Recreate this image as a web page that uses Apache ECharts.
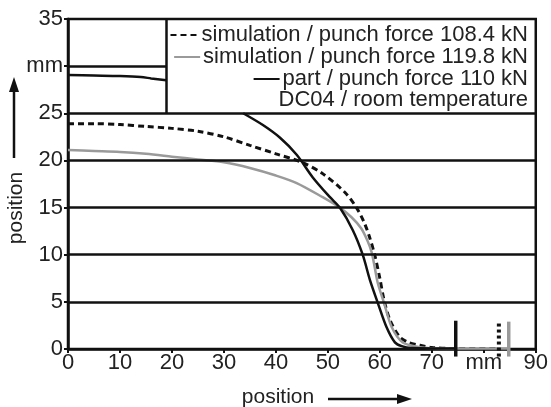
<!DOCTYPE html>
<html>
<head>
<meta charset="utf-8">
<script src="https://cdn.jsdelivr.net/npm/echarts@6/dist/echarts.min.js"></script>
<style>
html,body{margin:0;padding:0;background:#fff;}
#main{width:551px;height:407px;}
</style>
</head>
<body>
<div id="main"></div>
<script>
// x/y werte
var dashName='simulation / punch force 108.4 kN';
var grayName='simulation / punch force 119.8 kN';
var partName='part / punch force 110 kN';
var noteText='DC04 / room temperature';

var dashX=[0,5,10,15,20,25,30,35,40,45,49,53.3,55.5,57,58,59,60,60.8,62,63.8,65.5,67.7,70,75,83];
var dashY=[23.9,23.9,23.8,23.6,23.4,23.1,22.5,21.6,20.7,19.8,18.6,16.6,15,13.4,11.9,10,7.5,5.2,3,1.3,0.7,0.4,0.15,0.05,0.05];

var grayX=[0,5,10,15,20,25,30,35,40,44,49,52,54.5,56.4,57.6,58.4,59,59.6,60.8,62.3,64.4,67.7,72,85];
var grayY=[21.1,21.0,20.9,20.7,20.4,20.1,19.8,19.2,18.4,17.6,16.1,15.1,14,12.8,11.5,10.3,8.7,7,4.9,2.3,0.7,0.2,0.05,0.05];

var partX=[33.7,37.5,40.8,44,47.1,50.4,52.3,54.8,56.7,58.1,59.6,61.3,62.9,64.2,66,74.6];
var partY=[25,23.75,22.4,20.6,18.2,16.1,15,12.6,10,7.3,4.9,2.3,0.7,0.3,0.1,0.05];

// kleiner ausschnitt links oben
var insetX=[0,5,10,14,16,18.9];
var insetY=[29.05,29,28.95,28.85,28.7,28.5];

// senkrechte marken unten rechts
var markerX=[74.6,82.9,84.8];
var markerTop=[3.0,2.9,2.9];
var markerBottom=-0.8;

var gridY=[5,10,15,20,25];
var boxX=18.9;
var insetLineY=30;

function pairs(xs,ys){
	var out=[];
	for (var i=0;i<xs.length;i++){
		out.push([xs[i],ys[i]]);
	}
	return out;
}

var font='Liberation Sans';
var black='#111';
var gray='#9a9a9a';

var lineMarks=[];
for (var i=0;i<gridY.length;i++){
	lineMarks.push({yAxis:gridY[i]});
}
lineMarks.push([{coord:[0,insetLineY]},{coord:[boxX,insetLineY]}]);
lineMarks.push([{coord:[boxX,25]},{coord:[boxX,35]}]);

var markerStyles=[
	{color:black,width:3.5,type:'solid'},
	{color:black,width:4,type:[3,3]},
	{color:gray,width:3.5,type:'solid'}
];

var myChart=echarts.init(document.getElementById('main'));
var series=[
	{
		type:'line',
		data:pairs(insetX,insetY),
		symbol:'none',
		smooth:0.3,
		z:1,
		lineStyle:{color:black,width:2.5},
		markLine:{
			silent:true,
			symbol:['none','none'],
			label:{show:false},
			animation:false,
			lineStyle:{color:black,type:'solid',width:2.5},
			data:lineMarks
		}
	},
	{
		name:dashName,
		type:'line',
		data:pairs(dashX,dashY),
		symbol:'none',
		smooth:0.3,
		z:3,
		itemStyle:{color:black},
		lineStyle:{color:black,width:3,type:[6,4]}
	},
	{
		name:grayName,
		type:'line',
		data:pairs(grayX,grayY),
		symbol:'none',
		smooth:0.3,
		z:3,
		itemStyle:{color:gray},
		lineStyle:{color:gray,width:2.5}
	},
	{
		name:partName,
		type:'line',
		data:pairs(partX,partY),
		symbol:'none',
		smooth:0.3,
		z:4,
		itemStyle:{color:black},
		lineStyle:{color:black,width:2.5}
	}
];
for (var k=0;k<markerX.length;k++){
	series.push({
		type:'line',
		data:[[markerX[k],markerBottom],[markerX[k],markerTop[k]]],
		symbol:'none',
		clip:false,
		z:5,
		lineStyle:markerStyles[k]
	});
}

function legendAt(name,top,w){
	return {
		data:[name],
		right:23,
		top:top,
		padding:0,
		itemWidth:w,
		itemHeight:10,
		itemGap:0,
		selectedMode:false,
		itemStyle:{opacity:0},
		textStyle:{fontFamily:font,fontSize:22,color:'#222',padding:[0,0,0,-2]}
	};
}

var option={
	animation:false,
	grid:{left:68,right:15,top:19,bottom:58,show:true,borderColor:black,borderWidth:2.5},
	legend:[
		legendAt(dashName,24,28),
		legendAt(grayName,46,26),
		legendAt(partName,68,26)
	],
	xAxis:{
		type:'value',min:0,max:90,interval:10,
		axisLine:{show:true,lineStyle:{color:black,width:2.5}},
		axisTick:{show:true,length:4,lineStyle:{color:black,width:2}},
		splitLine:{show:false},
		axisLabel:{
			margin:3,fontFamily:font,fontSize:22,color:'#222',
			formatter:function(v){ return v==80?'mm':v; }
		}
	},
	yAxis:{
		type:'value',min:0,max:35,interval:5,
		axisLine:{show:true,lineStyle:{color:black,width:2.5}},
		axisTick:{show:true,length:4,lineStyle:{color:black,width:2}},
		splitLine:{show:false},
		axisLabel:{
			margin:5,fontFamily:font,fontSize:22,color:'#222',
			formatter:function(v){ return v==30?'mm':v; }
		}
	},
	graphic:[
		{type:'text',right:23,top:89,style:{text:noteText,fontFamily:font,fontSize:22,fill:'#222'}},
		// achsenbeschriftung y
		{type:'text',x:16,y:208,rotation:Math.PI/2,style:{text:'position',fontFamily:font,fontSize:21,fill:'#222',align:'center',verticalAlign:'middle'}},
		{type:'line',shape:{x1:14,y1:158,x2:14,y2:90},style:{stroke:black,lineWidth:2.5}},
		{type:'polygon',shape:{points:[[14,77],[9,92],[19,92]]},style:{fill:black}},
		// achsenbeschriftung x
		{type:'text',x:278,y:397,style:{text:'position',fontFamily:font,fontSize:21,fill:'#222',align:'center',verticalAlign:'middle'}},
		{type:'line',shape:{x1:328,y1:399,x2:398,y2:399},style:{stroke:black,lineWidth:2.5}},
		{type:'polygon',shape:{points:[[412,399],[397,394],[397,404]]},style:{fill:black}}
	],
	series:series
};
myChart.setOption(option);
</script>
</body>
</html>
